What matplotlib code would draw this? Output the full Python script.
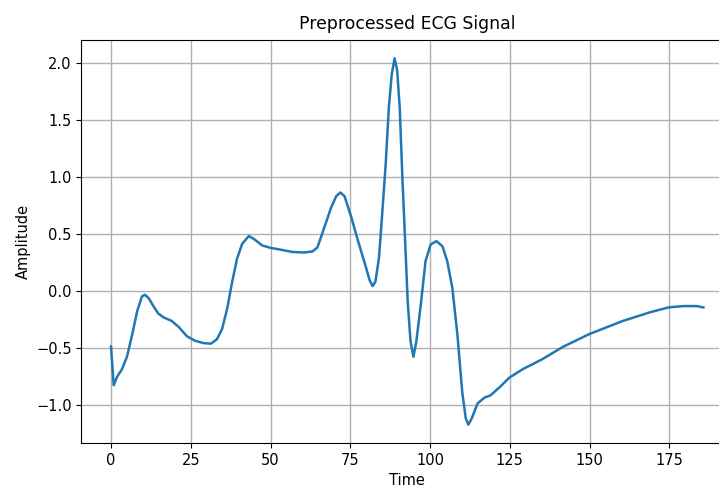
import matplotlib
matplotlib.use("Agg")
import matplotlib.pyplot as plt

time = [0, 0.84, 1.9, 3.45, 5, 6.6, 8.2, 9.7, 10.6, 11.8, 13.4, 14.8, 16.5,
        19, 21.2, 23.8, 26.4, 29, 31.3, 33.2, 34.8, 36.4, 38, 39.5, 41.1,
        43.2, 44.7, 47.4, 50, 53.2, 56.8, 60.5, 63.2, 64.7, 66.8, 69, 70.6,
        71.9, 73.2, 75.3, 77.4, 79.6, 81.1, 82, 82.9, 84, 85, 86.1, 87.1, 88,
        88.9, 89.7, 90.5, 91.3, 92.2, 93, 93.9, 94.8, 95.7, 97.1, 98.6, 100.2,
        102, 103.9, 105.4, 107, 108.6, 110.1, 111.2, 112, 113.1, 114.9, 117,
        119, 122.1, 124.8, 129, 135.3, 141.6, 150, 160.5, 168.9, 174.7,
        179.4, 183.6, 185.7]
amplitude = [-0.49, -0.83, -0.756, -0.688, -0.58, -0.39, -0.18, -0.05, -0.035,
             -0.065, -0.14, -0.2, -0.235, -0.265, -0.318, -0.40, -0.44, -0.46,
             -0.465, -0.426, -0.338, -0.16, 0.08, 0.28, 0.41, 0.48, 0.456,
             0.397, 0.376, 0.36, 0.34, 0.335, 0.345, 0.38, 0.55, 0.73, 0.83,
             0.862, 0.83, 0.647, 0.44, 0.235, 0.09, 0.04, 0.08, 0.29, 0.67,
             1.11, 1.61, 1.9, 2.04, 1.935, 1.61, 1.02, 0.435, -0.094, -0.447,
             -0.58, -0.447, -0.124, 0.26, 0.406, 0.435, 0.39, 0.26, 0.024,
             -0.39, -0.89, -1.12, -1.176, -1.12, -0.99, -0.94, -0.918, -0.84,
             -0.765, -0.69, -0.60, -0.494, -0.38, -0.265, -0.19, -0.147,
             -0.135, -0.135, -0.147]

fig = plt.figure(figsize=(7.19, 4.96), dpi=100)
ax = fig.add_axes([0.1132, 0.1069, 0.9063, 0.8125])
ax.plot(time, amplitude, color="#1f77b4", linewidth=1.8)
ax.set_title("Preprocessed ECG Signal", fontsize=12.4, pad=8)
ax.set_xlabel("Time", fontsize=10.5)
ax.set_ylabel("Amplitude", fontsize=10.5)
ax.set_xticks([0, 25, 50, 75, 100, 125, 150, 175])
ax.set_yticks([-1.0, -0.5, 0.0, 0.5, 1.0, 1.5, 2.0])
ax.tick_params(labelsize=10.5)
ax.grid(True, color="#b0b0b0", linewidth=1.0)
ax.spines["right"].set_visible(False)
fig.savefig("out.png", dpi=100)
